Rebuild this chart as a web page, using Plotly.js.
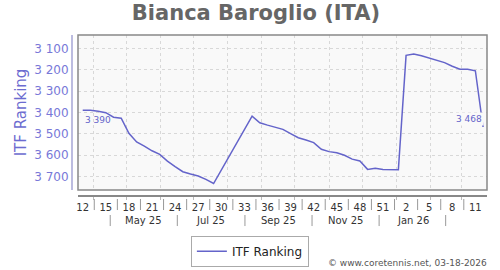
<!DOCTYPE html>
<html><head><meta charset="utf-8">
<script src="https://cdn.plot.ly/plotly-3.0.1.min.js"></script>
<style>html,body{margin:0;padding:0;background:#fff}#chart{width:500px;height:270px}</style>
</head><body><div id="chart"></div>
<script>
// ---- data ----
const dates = ["2025-03-22","2025-03-29","2025-04-05","2025-04-12","2025-04-19","2025-04-26","2025-05-03","2025-05-10","2025-05-17","2025-05-24","2025-05-31","2025-06-07","2025-06-14","2025-06-21","2025-06-28","2025-07-05","2025-07-12","2025-07-19",
  "2025-08-23","2025-08-30","2025-09-06","2025-09-13","2025-09-20","2025-09-27","2025-10-04","2025-10-11","2025-10-18","2025-10-25","2025-11-01","2025-11-08","2025-11-15","2025-11-22","2025-11-29","2025-12-06","2025-12-13","2025-12-20","2025-12-27","2026-01-03",
  "2026-01-10","2026-01-17","2026-01-24","2026-01-31","2026-02-07","2026-02-14","2026-02-21","2026-02-28","2026-03-07","2026-03-14","2026-03-21"];
const ranking = [3390,3390,3394,3401,3422,3427,3497,3538,3557,3579,3596,3627,3653,3677,3688,3697,3713,3732,
  3417,3448,3459,3468,3479,3499,3518,3529,3541,3572,3583,3588,3600,3618,3627,3666,3661,3666,3668,3668,
  3133,3127,3135,3145,3155,3167,3184,3198,3198,3205,3468];
const weekTickDates = ["2025-03-22","2025-04-12","2025-05-03","2025-05-24","2025-06-14","2025-07-05","2025-07-26","2025-08-16","2025-09-06","2025-09-27","2025-10-18","2025-11-08","2025-11-29","2025-12-20","2026-01-10","2026-01-31","2026-02-21","2026-03-14"];
const weekTickLabels = ["12","15","18","21","24","27","30","33","36","39","42","45","48","51","2","5","8","11"];
const monthLabels = ["May 25","Jul 25","Sep 25","Nov 25","Jan 26"];
const monthLabelStarts = ["2025-05-01","2025-07-01","2025-09-01","2025-11-01","2026-01-01"];
const yTickVals = [3100,3200,3300,3400,3500,3600,3700];
const playerName = "Bianca Baroglio (ITA)";
const seriesName = "ITF Ranking";
const footer = "© www.coretennis.net, 03-18-2026";

// ---- helpers ----
const ms = s => { const p = s.split('-').map(Number); return Date.UTC(p[0], p[1]-1, p[2]); };
const iso = t => new Date(t).toISOString().slice(0,19).replace('T',' ');
const fmt = v => String(v).replace(/\B(?=(\d{3})+(?!\d))/g, ' ');
const monthMid = (y, m) => (Date.UTC(y, m, 1) + Date.UTC(y, m+1, 1)) / 2;

const LINE = '#6464ca';
const FONT = 'DejaVu Sans, Verdana, sans-serif';

// week separators between labels
const shapes = [];
for (let i = 0; i < weekTickDates.length - 1; i++) {
  const mid = (ms(weekTickDates[i]) + ms(weekTickDates[i+1])) / 2;
  shapes.push({type:'line', xref:'x', yref:'paper', x0: iso(mid), x1: iso(mid), y0: -0.025, y1: -0.094,
    line:{color:'#999', width:1}});
}
// month labels and separators
const annotations = [];
const sepSet = new Set();
monthLabelStarts.forEach((s, i) => {
  const d = new Date(ms(s));
  const y = d.getUTCFullYear(), m = d.getUTCMonth();
  annotations.push({xref:'x', yref:'paper', x: iso(monthMid(y, m)), y: -0.16, text: monthLabels[i],
    showarrow:false, xanchor:'center', yanchor:'middle', font:{family:FONT, size:10, color:'#333'}});
  sepSet.add(monthMid(y, m-1)); sepSet.add(monthMid(y, m+1));
});
[...sepSet].forEach(t => shapes.push({type:'line', xref:'x', yref:'paper', x0: iso(t), x1: iso(t), y0: -0.125, y1: -0.194,
  line:{color:'#999', width:1}}));
// plot border
shapes.push({type:'rect', xref:'x domain', yref:'y domain', x0:0, x1:1, y0:0, y1:1, layer:'above',
  line:{color:'#888', width:1.5}});

// value labels at first and last point
const n = dates.length;
annotations.push({x: dates[0], y: ranking[0], text: fmt(ranking[0]), showarrow:false, xanchor:'left', yanchor:'middle',
  yshift:-10, font:{family:FONT, size:9, color:LINE}});
annotations.push({x: dates[n-1], y: ranking[n-1], text: fmt(ranking[n-1]), showarrow:false, xanchor:'right', yanchor:'middle',
  yshift:8, xshift:1, bgcolor:'#f9f9f9', font:{family:FONT, size:9, color:LINE}});
annotations.push({xref:'paper', yref:'paper', x:1.005, y:-0.423, text: footer, showarrow:false, xanchor:'right', yanchor:'middle',
  font:{family:FONT, size:9, color:'#555'}});

const trace = {x: dates, y: ranking, type:'scatter', mode:'lines', name: seriesName,
  line:{color: LINE, width:1.5}, hoverinfo:'x+y'};

const layout = {
  width:500, height:270,
  margin:{l:71, r:13, t:35, b:75, autoexpand:false},
  paper_bgcolor:'#fff', plot_bgcolor:'#f9f9f9',
  font:{family:FONT},
  title:{text: playerName, x:0.512, xref:'container', y:0.952, yref:'container', yanchor:'middle', xanchor:'center',
    font:{family:FONT, size:21, color:'#666', weight:'bold'}},
  xaxis:{type:'date', domain:[7/416, 1], anchor:'free', position:0,
    range:['2025-03-17 17:00','2026-03-24 14:00'],
    tickmode:'array', tickvals: weekTickDates, ticktext: weekTickLabels,
    ticks:'', showgrid:false, zeroline:false,
    showline:true, linecolor:'#888', linewidth:1.5,
    tickfont:{family:FONT, size:10, color:'#333'}, ticklabelstandoff:2,
    minor:{dtick:'M1', tick0:'2025-04-01', showgrid:true, gridcolor:'#d8d8d8', griddash:'3px,3px', gridwidth:1,
      ticks:'outside', ticklen:3, tickcolor:'#bbb'}},
  yaxis:{domain:[5/160, 1], anchor:'free', position:0, autorange:false, range:[3762.4, 3037.8],
    tickmode:'array', tickvals: yTickVals, separatethousands:true,
    showgrid:true, gridcolor:'#d8d8d8', griddash:'3px,3px', zeroline:false,
    showline:true, linecolor:'#bcbce0', linewidth:1.5, ticks:'',
    tickfont:{family:FONT, size:12, color:'#7878d8'},
    title:{text: seriesName, font:{family:FONT, size:15, color:'#6c6cd0'}, standoff:2}},
  separators:'. ',
  showlegend:true,
  legend:{orientation:'h', x:0.43, xanchor:'center', y:-0.255, yanchor:'top', bgcolor:'#fff',
    bordercolor:'#aaa', borderwidth:1, font:{family:FONT, size:12, color:'#222'}, itemwidth:30},
  shapes, annotations
};
Plotly.newPlot('chart', [trace], layout, {displayModeBar:false, staticPlot:true});
</script></body></html>
